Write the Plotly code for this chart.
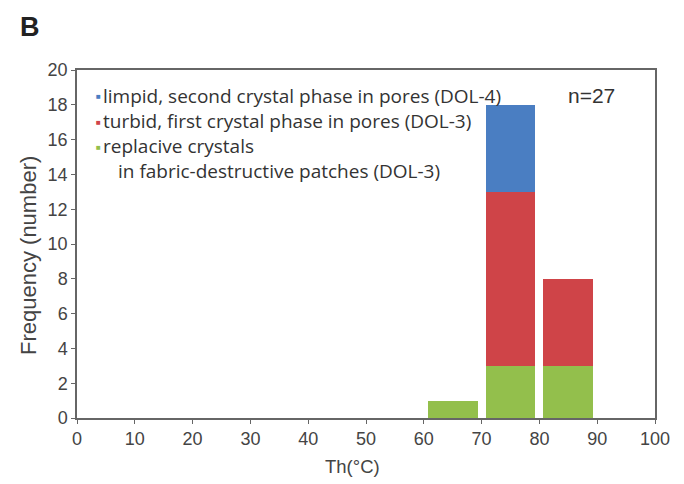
import plotly.graph_objects as go

# Homogenisation temperature bins (bin centres, °C) and counts per cement type
bin_centers = [65, 75, 85]
bin_width = 8.6
replacive = [1, 3, 3]   # replacive crystals in fabric-destructive patches (DOL-3)
turbid = [0, 10, 5]     # turbid, first crystal phase in pores (DOL-3)
limpid = [0, 5, 0]      # limpid, second crystal phase in pores (DOL-4)

x_ticks = list(range(0, 101, 10))
y_ticks = list(range(0, 21, 2))

green = "#93BF4C"
red = "#CF4448"
blue = "#4A7EC2"

fig = go.Figure()
for vals, col, name in [
    (replacive, green, "replacive crystals in fabric-destructive patches (DOL-3)"),
    (turbid, red, "turbid, first crystal phase in pores (DOL-3)"),
    (limpid, blue, "limpid, second crystal phase in pores (DOL-4)"),
]:
    fig.add_trace(go.Bar(
        x=bin_centers, y=vals, width=bin_width, name=name,
        marker=dict(color=col, line=dict(width=0)),
        showlegend=False,
    ))

axis_font = dict(family="Liberation Sans, Arial", size=18, color="#444")
fig.update_layout(
    barmode="stack",
    width=684, height=484,
    margin=dict(l=77, r=29, t=70, b=66),
    paper_bgcolor="white", plot_bgcolor="white",
    xaxis=dict(range=[0, 100], tickvals=x_ticks, ticks="outside", ticklen=4,
               tickcolor="#666", showline=True, linecolor="#666", linewidth=1.5,
               mirror=True, showgrid=False, zeroline=False, tickfont=axis_font),
    yaxis=dict(range=[0, 20], tickvals=y_ticks, ticks="outside", ticklen=4,
               tickcolor="#666", showline=True, linecolor="#666", linewidth=1.5,
               mirror=True, showgrid=False, zeroline=False, tickfont=axis_font),
)

# Hand-placed legend with small coloured squares
legend_font = dict(family="Open Sans", size=19, color="#333")
legend_rows = [
    (blue, "limpid, second crystal phase in pores (DOL-4)", 96),
    (red, "turbid, first crystal phase in pores (DOL-3)", 121),
    (green, "replacive crystals", 146),
]
for col, txt, ypx in legend_rows:
    fig.add_annotation(xref="paper", yref="paper",
                       x=(98 - 77) / 578, y=(418 - ypx) / 348,
                       text="■", showarrow=False, xanchor="center", yanchor="middle",
                       font=dict(size=8, color=col))
    fig.add_annotation(xref="paper", yref="paper",
                       x=(101 - 77) / 578, y=(418 - ypx) / 348,
                       text=txt, showarrow=False, xanchor="left", yanchor="middle",
                       font=legend_font)
fig.add_annotation(xref="paper", yref="paper",
                   x=(116 - 77) / 578, y=(418 - 171) / 348,
                   text="in fabric-destructive patches (DOL-3)", showarrow=False,
                   xanchor="left", yanchor="middle", font=legend_font)

fig.add_annotation(xref="paper", yref="paper",
                   x=(591 - 77) / 578, y=(418 - 96) / 348,
                   text="n=27", showarrow=False, xanchor="center", yanchor="middle",
                   font=dict(family="Liberation Sans, Arial", size=21, color="#333"))

# Axis titles and panel letter
fig.add_annotation(xref="paper", yref="paper",
                   x=(352 - 77) / 578, y=(418 - 466) / 348,
                   text="Th(°C)", showarrow=False, xanchor="center", yanchor="middle",
                   font=dict(family="Liberation Sans, Arial", size=18.5, color="#444"))
fig.add_annotation(xref="paper", yref="paper",
                   x=(28 - 77) / 578, y=(418 - 256) / 348,
                   text="Frequency (number)", showarrow=False, textangle=-90,
                   xanchor="center", yanchor="middle",
                   font=dict(family="Liberation Sans, Arial", size=22, color="#444"))
fig.add_annotation(xref="paper", yref="paper",
                   x=(30 - 77) / 578, y=(418 - 27) / 348,
                   text="<b>B</b>", showarrow=False, xanchor="center", yanchor="middle",
                   font=dict(family="Liberation Sans, Arial", size=27, color="#222"))

fig.write_html("out.html")
